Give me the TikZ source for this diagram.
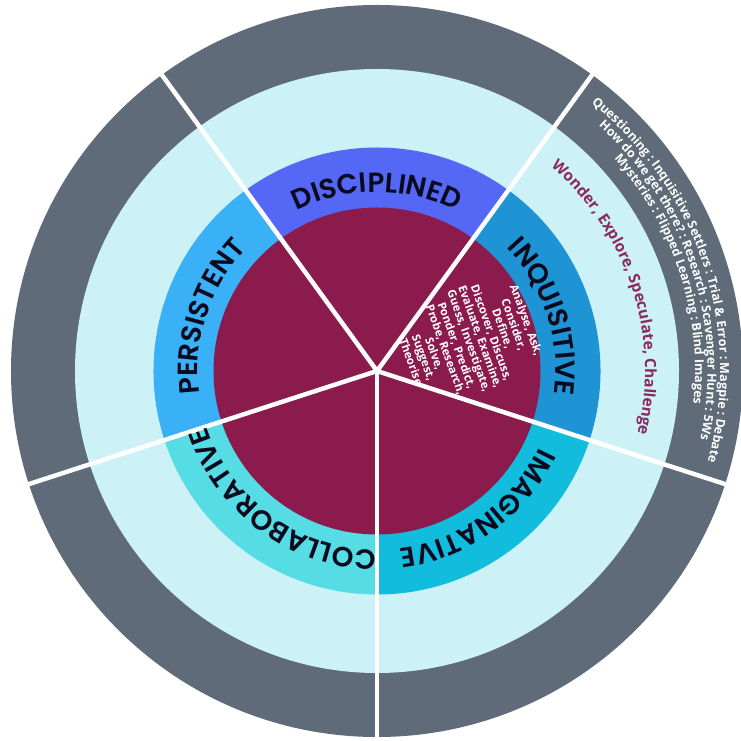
\documentclass[tikz,border=0pt]{standalone}
\usepackage{fontspec}
\usetikzlibrary{decorations.text}
\newfontfamily\lblfont{Poppins SemiBold}
\newfontfamily\notefont{Open Sans}
\definecolor{ringgray}{RGB}{95,107,120}
\definecolor{paleblue}{RGB}{204,241,247}
\definecolor{discblue}{RGB}{84,104,245}
\definecolor{persblue}{RGB}{58,176,246}
\definecolor{collcyan}{RGB}{86,220,228}
\definecolor{imagcyan}{RGB}{18,188,220}
\definecolor{inqblue}{RGB}{30,148,212}
\definecolor{plum}{RGB}{139,27,76}
\definecolor{plumtext}{RGB}{140,40,95}
\definecolor{labelink}{RGB}{10,10,30}

\begin{document}
\begin{tikzpicture}[divider/.style={white, line width=0.09cm},
  ringlabel/.style={decorate, decoration={text along path, text align=center, text color=labelink,
      text={|\lblfont\fontsize{15.8pt}{18pt}\selectfont|#1}}},
  noteline/.style={decorate, decoration={text along path, text align=center, text color=white,
      text={|\notefont\bfseries\fontsize{7.1pt}{8pt}\selectfont|#1}}},
  wonderline/.style={decorate, decoration={text along path, text align=center, text color=plumtext,
      text={|\notefont\bfseries\fontsize{8.8pt}{11pt}\selectfont|#1}}},
  verbs/.style={text=white, font=\notefont\bfseries\fontsize{6.5pt}{5.5pt}\selectfont, align=center, inner sep=0pt}]
  \path[use as bounding box, fill=white] (-7.54,-7.40) rectangle (7.26,7.42);
  \coordinate (c) at (0,0);
  \fill[ringgray] (c) circle (7.32);
  \fill[paleblue] (c) circle (6.04);
  \foreach \a/\col in {54/discblue, 126/persblue, 198/collcyan, 270/imagcyan, -18/inqblue}
    \fill[\col] (c) -- (\a:4.47) arc[start angle=\a, end angle=\a+72, radius=4.47] -- cycle;
  \fill[plum] (c) circle (3.27);
  \foreach \a in {54,126,198,270,342}
    \draw[divider] (c) -- (\a:7.6);
  \path[ringlabel=DISCIPLINED] (140:3.58) arc[start angle=140, end angle=40, radius=3.58];
  \path[ringlabel=PERSISTENT] (212:3.58) arc[start angle=212, end angle=112, radius=3.58];
  \path[ringlabel=COLLABORATIVE] (284:3.58) arc[start angle=284, end angle=184, radius=3.58];
  \path[ringlabel=IMAGINATIVE] (356:3.58) arc[start angle=356, end angle=256, radius=3.58];
  \path[ringlabel=INQUISITIVE] (68:3.58) arc[start angle=68, end angle=-32, radius=3.58];
  \path[wonderline={Wonder, Explore, Speculate, Challenge}] (80:5.36) arc[start angle=80, end angle=-44, radius=5.36];
  \path[noteline={Questioning : Inquisitive Settlers : Trial {\&} Error : Magpie : Debate}] (80:6.86) arc[start angle=80, end angle=-44, radius=6.86];
  \path[noteline={How do we get there? : Research : Scavenger Hunt : 5Ws}] (80:6.61) arc[start angle=80, end angle=-44, radius=6.61];
  \path[noteline={Mysteries : Flipped Learning : Blind Images}] (80:6.36) arc[start angle=80, end angle=-44, radius=6.36];
  \node[verbs, rotate=-70] (inqverbs) at (1.84,0.6) {Analyse, Ask,\\Consider,\\Define,\\Discover, Discuss,\\Evaluate, Examine,\\Guess, Investigate,\\Ponder, Predict,\\Probe, Research,\\Solve,\\Suggest,\\Theorise};
\end{tikzpicture}
\end{document}
